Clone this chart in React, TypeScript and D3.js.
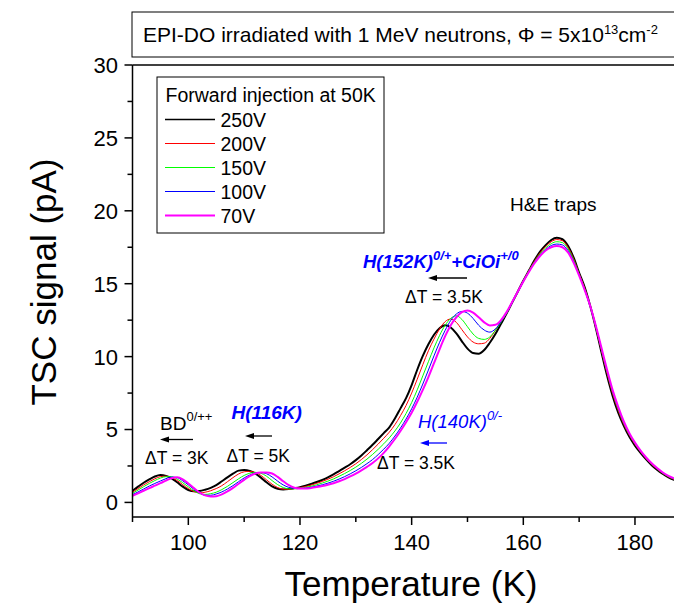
import React from 'react';
import * as d3 from 'd3';

// ---------- data ----------
const temperatures = [
  90, 91, 92, 93, 94, 95, 96, 97, 98, 99,
  100, 101, 102, 103, 104, 105, 106, 107, 108, 109,
  110, 111, 112, 113, 114, 115, 116, 117, 118, 119,
  120, 121, 122, 123, 124, 125, 126, 127, 128, 129,
  130, 131, 132, 133, 134, 135, 136, 137, 138, 139,
  140, 141, 142, 143, 144, 145, 146, 147, 148, 149,
  150, 151, 152, 153, 154, 155, 156, 157, 158, 159,
  160, 161, 162, 163, 164, 165, 166, 167, 168, 169,
  170, 171, 172, 173, 174, 175, 176, 177, 178, 179,
  180, 181, 182, 183, 184, 185, 186, 187, 188, 189, 190,
];

const signal250V = [
  0.80, 1.08, 1.35, 1.58, 1.78, 1.88, 1.82, 1.65, 1.38, 1.08,
  0.85, 0.76, 0.78, 0.87, 1.00, 1.18, 1.45, 1.72, 1.97, 2.18,
  2.22, 2.16, 1.98, 1.70, 1.38, 1.10, 0.94, 0.89, 0.92, 0.98,
  1.05, 1.15, 1.27, 1.40, 1.55, 1.72, 1.92, 2.15, 2.38, 2.62,
  2.90, 3.22, 3.58, 3.95, 4.35, 4.75, 5.15, 5.75, 6.45, 7.15,
  8.05, 9.10, 10.05, 10.85, 11.50, 11.95, 12.15, 12.00, 11.60, 11.05,
  10.55, 10.25, 10.20, 10.45, 10.95, 11.55, 12.25, 12.95, 13.70, 14.45,
  15.20, 15.90, 16.60, 17.20, 17.65, 18.00, 18.15, 18.05, 17.60, 16.80,
  15.75, 14.75, 13.45, 11.95, 10.30, 8.70, 7.30, 6.15, 5.25, 4.50,
  3.90, 3.40, 2.95, 2.55, 2.22, 1.95, 1.72, 1.55, 1.45, 1.38, 1.32,
];

const signal200V = [
  0.70, 0.95, 1.20, 1.42, 1.62, 1.77, 1.80, 1.70, 1.50, 1.22,
  0.95, 0.74, 0.66, 0.70, 0.80, 0.95, 1.15, 1.42, 1.70, 1.95,
  2.10, 2.13, 2.05, 1.85, 1.55, 1.25, 1.02, 0.91, 0.90, 0.95,
  1.01, 1.09, 1.19, 1.31, 1.44, 1.59, 1.76, 1.96, 2.17, 2.40,
  2.65, 2.94, 3.26, 3.62, 4.00, 4.40, 4.82, 5.33, 5.95, 6.65,
  7.50, 8.45, 9.45, 10.40, 11.20, 11.90, 12.40, 12.58, 12.35, 11.85,
  11.35, 11.00, 10.88, 10.92, 11.25, 11.80, 12.40, 13.00, 13.72, 14.45,
  15.20, 15.90, 16.55, 17.12, 17.55, 17.88, 18.03, 17.95, 17.50, 16.72,
  15.70, 14.70, 13.45, 12.00, 10.40, 8.85, 7.45, 6.30, 5.35, 4.60,
  3.98, 3.46, 3.00, 2.60, 2.27, 1.98, 1.75, 1.58, 1.47, 1.40, 1.34,
];

const signal150V = [
  0.62, 0.85, 1.08, 1.30, 1.50, 1.67, 1.77, 1.76, 1.60, 1.35,
  1.07, 0.80, 0.60, 0.55, 0.60, 0.70, 0.88, 1.10, 1.36, 1.62,
  1.85, 2.00, 2.06, 2.00, 1.80, 1.50, 1.22, 1.02, 0.93, 0.93,
  0.97, 1.03, 1.11, 1.21, 1.33, 1.46, 1.61, 1.79, 1.98, 2.19,
  2.42, 2.68, 2.97, 3.29, 3.64, 4.02, 4.43, 4.90, 5.45, 6.10,
  6.85, 7.72, 8.68, 9.65, 10.60, 11.45, 12.15, 12.62, 12.80, 12.55,
  12.05, 11.55, 11.25, 11.18, 11.35, 11.80, 12.35, 12.98, 13.70, 14.45,
  15.18, 15.88, 16.50, 17.05, 17.45, 17.75, 17.88, 17.82, 17.40, 16.65,
  15.65, 14.62, 13.42, 12.05, 10.48, 8.95, 7.55, 6.40, 5.42, 4.65,
  4.02, 3.50, 3.03, 2.63, 2.30, 2.00, 1.77, 1.60, 1.49, 1.41, 1.35,
];

const signal100V = [
  0.53, 0.72, 0.92, 1.12, 1.30, 1.47, 1.63, 1.74, 1.70, 1.48,
  1.20, 0.90, 0.65, 0.49, 0.49, 0.58, 0.72, 0.92, 1.15, 1.42,
  1.68, 1.88, 2.01, 2.05, 1.97, 1.75, 1.46, 1.20, 1.03, 0.96,
  0.95, 0.98, 1.04, 1.12, 1.21, 1.32, 1.45, 1.60, 1.77, 1.96,
  2.17, 2.40, 2.66, 2.94, 3.28, 3.65, 4.06, 4.55, 5.10, 5.72,
  6.42, 7.22, 8.12, 9.08, 10.05, 10.98, 11.80, 12.48, 12.92, 13.10,
  12.98, 12.62, 12.15, 11.82, 11.68, 11.90, 12.40, 13.00, 13.70, 14.42,
  15.15, 15.82, 16.45, 16.98, 17.35, 17.62, 17.72, 17.66, 17.28, 16.55,
  15.60, 14.58, 13.42, 12.08, 10.55, 9.02, 7.62, 6.48, 5.48, 4.70,
  4.06, 3.52, 3.05, 2.65, 2.32, 2.02, 1.80, 1.62, 1.50, 1.42, 1.35,
];

const signal70V = [
  0.46, 0.62, 0.80, 0.98, 1.15, 1.32, 1.50, 1.66, 1.72, 1.58,
  1.30, 0.98, 0.68, 0.48, 0.41, 0.43, 0.55, 0.75, 1.00, 1.28,
  1.55, 1.80, 1.98, 2.05, 2.06, 1.98, 1.75, 1.45, 1.18, 1.01,
  0.95, 0.95, 0.99, 1.05, 1.12, 1.21, 1.32, 1.45, 1.60, 1.78,
  1.98, 2.20, 2.44, 2.70, 3.02, 3.40, 3.85, 4.35, 4.90, 5.50,
  6.15, 6.90, 7.72, 8.60, 9.55, 10.50, 11.40, 12.15, 12.70, 13.05,
  13.17, 13.02, 12.70, 12.35, 12.14, 12.18, 12.50, 13.05, 13.75, 14.45,
  15.15, 15.80, 16.40, 16.90, 17.28, 17.50, 17.58, 17.50, 17.15, 16.45,
  15.55, 14.55, 13.45, 12.10, 10.60, 9.10, 7.70, 6.55, 5.55, 4.75,
  4.10, 3.55, 3.08, 2.68, 2.35, 2.05, 1.82, 1.65, 1.52, 1.43, 1.36,
];

const seriesLabels = ['250V', '200V', '150V', '100V', '70V'];
const seriesValues = [signal250V, signal200V, signal150V, signal100V, signal70V];

const xMajorTicks = [100, 120, 140, 160, 180];
const xMinorTicks = [90, 110, 130, 150, 170, 190];
const yMajorTicks = [0, 5, 10, 15, 20, 25, 30];
const yMinorTicks = [2.5, 7.5, 12.5, 17.5, 22.5, 27.5];

// ---------- styles ----------
const seriesColors = ['#000000', '#ff0000', '#00ff00', '#0000ff', '#ff00ff'];
const seriesWidths = [2, 1, 1, 1, 2];
const legendWidths = [1.5, 1, 1, 1, 2];
const FONT = 'Arial, "Liberation Sans", Helvetica, sans-serif';
const BLUE = '#0000ff';

const W = 674;
const H = 606;

function Arrow({ x1, x2, y, color }: { x1: number; x2: number; y: number; color: string }) {
  // head at x2 (pointing left)
  return (
    <g>
      <line x1={x1} x2={x2 + 6} y1={y} y2={y} stroke={color} strokeWidth={1.3} />
      <path d={`M${x2},${y} L${x2 + 9},${y - 3} L${x2 + 9},${y + 3} Z`} fill={color} />
    </g>
  );
}

export default function App() {
  const x = d3.scaleLinear().domain([90, 190]).range([132.5, 690.8]);
  const y = d3.scaleLinear().domain([-1, 30]).range([517, 65]);

  const line = d3
    .line<number>()
    .x((_, i) => x(temperatures[i]))
    .y((d) => y(d))
    .curve(d3.curveMonotoneX);

  const x0 = x(90);
  const x1 = x(190);
  const y0 = y(-1);
  const y1 = y(30);

  return (
    <div style={{ position: 'absolute', left: 0, top: 0 }}>
      <svg width={W} height={H} style={{ display: 'block', background: '#fff' }} fontFamily={FONT}>
        <defs>
          <clipPath id="plotClip">
            <rect x={x0} y={y1} width={x1 - x0} height={y0 - y1} />
          </clipPath>
        </defs>

        {/* title box */}
        <rect x={132} y={12} width={600} height={45} fill="#fff" stroke="#000" strokeWidth={1} />
        <text x={143} y={42} fontSize={21} fill="#000">
          EPI-DO irradiated with 1 MeV neutrons, Φ = 5x10
          <tspan dy={-8} fontSize={13}>13</tspan>
          <tspan dy={8}>cm</tspan>
          <tspan dy={-8} fontSize={13}>-2</tspan>
        </text>

        {/* curves */}
        <g clipPath="url(#plotClip)">
          {seriesValues.map((vals, i) => (
            <path
              key={seriesLabels[i]}
              d={line(vals) || ''}
              fill="none"
              stroke={seriesColors[i]}
              strokeWidth={seriesWidths[i]}
              strokeLinejoin="round"
            />
          ))}
        </g>

        {/* frame: left axis, top line, right line, bottom axis */}
        <line x1={x0} x2={x0} y1={y1} y2={y0} stroke="#000" strokeWidth={1.5} />
        <line x1={x0} x2={x1} y1={y1} y2={y1} stroke="#000" strokeWidth={1.5} />
        <line x1={x1} x2={x1} y1={y1} y2={y0} stroke="#000" strokeWidth={1.5} />
        <line x1={x0} x2={x1} y1={y0} y2={y0} stroke="#000" strokeWidth={1.5} />

        {/* x ticks */}
        {xMajorTicks.map((t) => (
          <g key={'xm' + t}>
            <line x1={x(t)} x2={x(t)} y1={y0} y2={y0 + 8} stroke="#000" strokeWidth={1.5} />
            <text x={x(t)} y={550} fontSize={22} textAnchor="middle" fill="#000">
              {t}
            </text>
          </g>
        ))}
        {xMinorTicks.map((t) => (
          <line key={'xn' + t} x1={x(t)} x2={x(t)} y1={y0} y2={y0 + 5} stroke="#000" strokeWidth={1.5} />
        ))}

        {/* y ticks */}
        {yMajorTicks.map((t) => (
          <g key={'ym' + t}>
            <line x1={x0 - 8} x2={x0} y1={y(t)} y2={y(t)} stroke="#000" strokeWidth={1.5} />
            <text x={118} y={y(t)} dy="0.36em" fontSize={22} textAnchor="end" fill="#000">
              {t}
            </text>
          </g>
        ))}
        {yMinorTicks.map((t) => (
          <line key={'yn' + t} x1={x0 - 5} x2={x0} y1={y(t)} y2={y(t)} stroke="#000" strokeWidth={1.5} />
        ))}

        {/* axis titles */}
        <text x={411} y={596} fontSize={35} textAnchor="middle" fill="#000">
          Temperature (K)
        </text>
        <text
          transform={`translate(56,${282}) rotate(-90)`}
          fontSize={35}
          textAnchor="middle"
          fill="#000"
        >
          TSC signal (pA)
        </text>

        {/* legend */}
        <rect x={157} y={77} width={227} height={156} fill="#fff" stroke="#000" strokeWidth={1} />
        <text x={165.5} y={102} fontSize={19.5} fill="#000">
          Forward injection at 50K
        </text>
        {seriesLabels.map((lab, i) => {
          const ry = 119.5 + i * 24;
          return (
            <g key={'lg' + lab}>
              <line x1={165} x2={215} y1={ry} y2={ry} stroke={seriesColors[i]} strokeWidth={legendWidths[i]} />
              <text x={220.5} y={ry + 7} fontSize={19.5} fill="#000">
                {lab}
              </text>
            </g>
          );
        })}

        {/* annotations */}
        <text x={510} y={211} fontSize={19} fill="#000">
          H&amp;E traps
        </text>

        <text x={363} y={268} fontSize={18.5} fontWeight="bold" fontStyle="italic" fill={BLUE}>
          H(152K)
          <tspan dy={-8} fontSize={13}>0/+</tspan>
          <tspan dy={8}>+CiOi</tspan>
          <tspan dy={-8} fontSize={13}>+/0</tspan>
        </text>
        <Arrow x1={467} x2={428} y={278} color="#000" />
        <text x={405} y={303} fontSize={17.5} fill="#000">
          ΔT = 3.5K
        </text>

        <text x={418} y={428} fontSize={18.5} fontStyle="italic" fill={BLUE}>
          H(140K)
          <tspan dy={-8} fontSize={13}>0/-</tspan>
        </text>
        <Arrow x1={447} x2={420} y={443} color={BLUE} />
        <text x={377} y={468.5} fontSize={17.5} fill="#000">
          ΔT = 3.5K
        </text>

        <text x={160} y={429.5} fontSize={19} fill="#000">
          BD
          <tspan dy={-9} fontSize={13}>0/++</tspan>
        </text>
        <Arrow x1={193} x2={160} y={439.5} color="#000" />
        <text x={145} y={463.5} fontSize={17.5} fill="#000">
          ΔT = 3K
        </text>

        <text x={231.5} y={418.5} fontSize={19} fontWeight="bold" fontStyle="italic" fill={BLUE}>
          H(116K)
        </text>
        <Arrow x1={272} x2={245} y={436} color="#000" />
        <text x={226.5} y={462} fontSize={17.5} fill="#000">
          ΔT = 5K
        </text>
      </svg>
    </div>
  );
}
